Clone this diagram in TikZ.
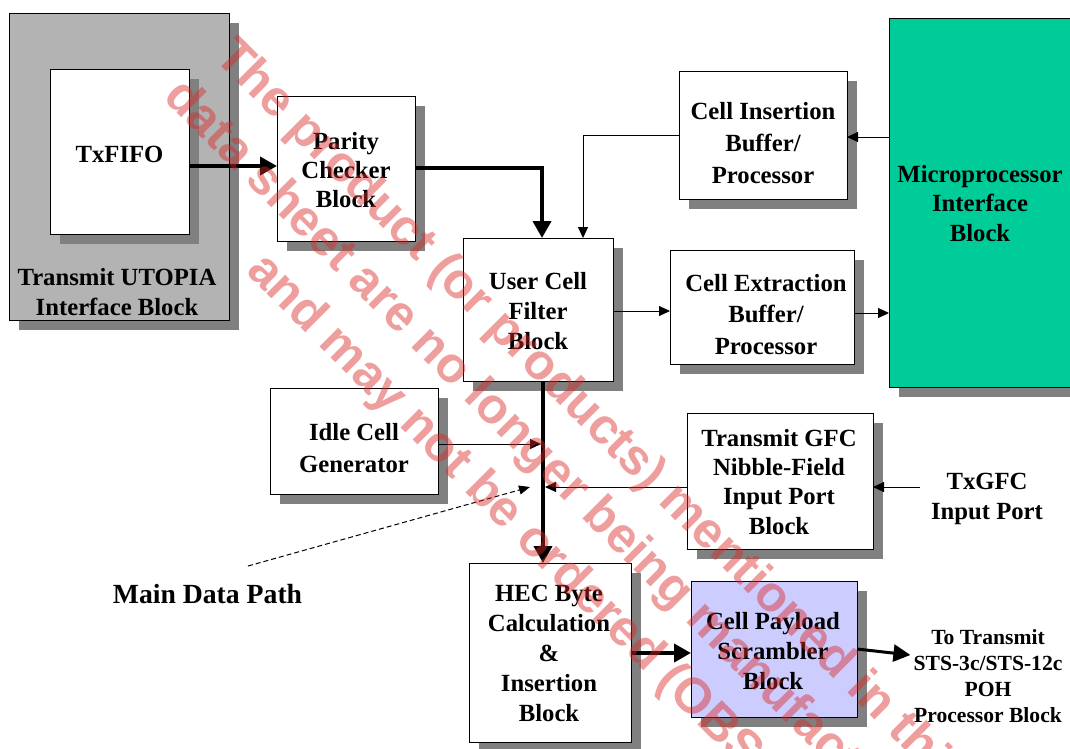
\documentclass[tikz,border=0pt]{standalone}
\usepackage{fontspec}
\setmainfont{Liberation Serif}
\newfontfamily\wmfont{Liberation Sans}
\usetikzlibrary{arrows.meta,shadows}
\definecolor{shadowgray}{RGB}{128,128,128}
\definecolor{utopiagray}{RGB}{179,179,179}
\definecolor{microgreen}{RGB}{0,204,153}
\definecolor{scramblue}{RGB}{204,204,255}
\definecolor{wmred}{RGB}{220,40,40}
\begin{document}
\begin{tikzpicture}[x=1pt,y=-1pt,
  blk/.style={draw=black, line width=1pt, fill=white, inner sep=0pt, outer sep=0pt,
    drop shadow={shadow xshift=10pt, shadow yshift=-10pt, fill=shadowgray, opacity=1}},
  lbl/.style={font=\bfseries\fontsize{24.7pt}{30pt}\selectfont, align=center, anchor=base, inner sep=0pt},
  thk/.style={line width=4pt, -{Triangle[length=17pt,width=18pt]}},
  thn/.style={line width=1pt, -{Triangle[length=11pt,width=10pt]}},
  dsh/.style={line width=1pt, dash pattern=on 5pt off 3pt, -{Triangle[length=11pt,width=9pt]}},
  wm/.style={font=\wmfont\bfseries\fontsize{50pt}{60pt}\selectfont, text=wmred, text opacity=0.45, anchor=base west, rotate=-45, inner sep=0pt}
]
\clip (0,0) rectangle (1070,748);
\fill[white] (0,0) rectangle (1070,748);

% boxes
\node[blk, fill=utopiagray, minimum width=220pt, minimum height=307pt] (utopia) at (119,166.5) {};
\node[blk, minimum width=139pt, minimum height=165pt] (txfifo) at (119.5,151.5) {};
\node[blk, minimum width=138pt, minimum height=145pt] (parity) at (346,168.5) {};
\node[blk, minimum width=150pt, minimum height=143pt] (ucf) at (538,309.5) {};
\node[blk, minimum width=168pt, minimum height=128pt] (cib) at (763,135) {};
\node[blk, minimum width=184pt, minimum height=114pt] (ceb) at (762,307) {};
\node[blk, fill=microgreen, minimum width=201pt, minimum height=369pt] (micro) at (989.5,202.5) {};
\node[blk, minimum width=168pt, minimum height=106pt] (idle) at (354,441) {};
\node[blk, minimum width=186pt, minimum height=136pt] (gfc) at (780,481) {};
\node[blk, minimum width=162pt, minimum height=179pt] (hec) at (550,652.5) {};
\node[blk, fill=scramblue, minimum width=166pt, minimum height=136pt] (scr) at (774,649) {};

% labels (anchor = baseline of the last line)
\node[lbl] (utopiat) at (117,315) {Transmit UTOPIA\\Interface Block};
\node[lbl] (txfifot) at (119.5,162) {TxFIFO};
\node[lbl, font=\bfseries\fontsize{24.7pt}{29pt}\selectfont] (parityt) at (346,207) {Parity\\Checker\\Block};
\node[lbl] (ucft) at (538,349) {User Cell\\Filter\\Block};
\node[lbl, font=\bfseries\fontsize{24.7pt}{32pt}\selectfont] (cibt) at (763,183) {Cell Insertion\\Buffer/\\Processor};
\node[lbl, font=\bfseries\fontsize{24.7pt}{31.5pt}\selectfont] (cebt) at (766,354) {Cell Extraction\\Buffer/\\Processor};
\node[lbl, font=\bfseries\fontsize{24.7pt}{29.5pt}\selectfont] (microt) at (980,241) {Microprocessor\\Interface\\Block};
\node[lbl, font=\bfseries\fontsize{24.7pt}{32pt}\selectfont] (idlet) at (354,472) {Idle Cell\\Generator};
\node[lbl, font=\bfseries\fontsize{24.7pt}{29.3pt}\selectfont] (gfct) at (779,534) {Transmit GFC\\Nibble-Field\\Input Port\\Block};
\node[lbl] (txgfc) at (987,519) {TxGFC\\Input Port};
\node[lbl] (hect) at (549,721) {HEC Byte\\Calculation\\\&\\Insertion\\Block};
\node[lbl] (scrt) at (773,689) {Cell Payload\\Scrambler\\Block};
\node[lbl, font=\bfseries\fontsize{21.6pt}{26pt}\selectfont] (out) at (988,722) {To Transmit\\STS-3c/STS-12c\\POH\\Processor Block};
\node[lbl, font=\bfseries\fontsize{27.7pt}{32pt}\selectfont] (mdp) at (207.5,603) {Main Data Path};

% junction coordinates
\coordinate (j1) at (541,444);
\coordinate (j2) at (545,487);
\coordinate (ds) at (248,566);
\coordinate (de) at (530,487);
\coordinate (gfcin) at (920,487);

% connectors
\draw[thk] (txfifo.east |- 0,166) -- (parity.west |- 0,166);
\draw[thk] (parity.east |- 0,168) -| (ucf.north -| 542,0);
\draw[thn] (cib.west |- 0,135) -| (ucf.north -| 583,0);
\draw[thn] (micro.west |- 0,137) -- (cib.east |- 0,137);
\draw[thn] (ucf.east |- 0,311) -- (ceb.west |- 0,311);
\draw[thn] (ceb.east |- 0,313) -- (micro.west |- 0,313);
\draw[thk] (ucf.south -| 543,0) -- (hec.north -| 543,0);
\draw[thn] (idle.east |- j1) -- (j1);
\draw[thn] (gfc.west |- j2) -- (j2);
\draw[dsh] (ds) -- (de);
\draw[thn] (gfcin) -- (gfc.east |- gfcin);
\draw[thk] (hec.east |- 0,653) -- (scr.west |- 0,653);
\draw[line width=3pt, -{Triangle[length=17pt,width=17pt]}] (scr.east |- 0,649) -- ([xshift=-3pt]out.west |- 0,655);

% watermark
\node[wm] (wm1) at (213,58) {The product (or products) mentioned in this};
\node[wm] (wm2) at (162,98) {data sheet are no longer being manufactured};
\node[wm] (wm3) at (245,272) {and may not be ordered (OBSOLETE)};
\end{tikzpicture}
\end{document}
